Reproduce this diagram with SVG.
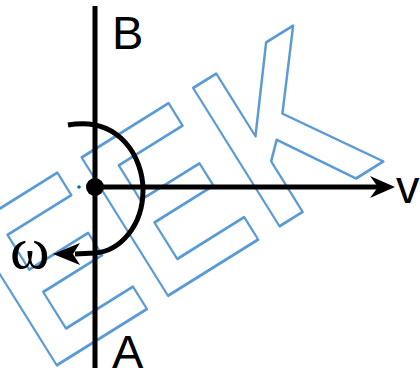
<svg xmlns="http://www.w3.org/2000/svg" width="420" height="374" viewBox="0 0 420 374">
<style>
.wm{font-family:"Liberation Sans",Arial,sans-serif;font-weight:bold;font-size:237px;fill:none;stroke:#5b9bd5;stroke-width:2.5;stroke-linejoin:round;letter-spacing:6px}
.ln{stroke:#000;stroke-width:5;fill:none}
.lbl{font-family:"Liberation Sans",Arial,sans-serif;font-size:47px;fill:#000}
.om{font-family:"Liberation Serif","Times New Roman",serif;font-size:60px;fill:#000}
</style>
<rect width="420" height="374" fill="#fff"/>
<g id="watermark">
<text class="wm" vector-effect="non-scaling-stroke" transform="translate(46,372) rotate(-32) scale(0.8,1)">EEK</text>
</g>
<g id="connectors">
<line class="ln" x1="95" y1="6" x2="95" y2="368"/>
<line class="ln" x1="95" y1="187" x2="380" y2="187"/>
<polygon points="395,187 370,176 378,187 370,198" fill="#000"/>
<path class="ln" d="M68,125 C120,116 143,158 143,190 C143,226 120,251 95,253 L75,254"/>
<polygon points="53,254 80,243 73,254 80,265" fill="#000"/>
</g>
<g id="pivot">
<circle cx="95" cy="187" r="9" fill="#000"/>
<circle cx="79" cy="187" r="1.8" fill="#0070c0"/>
</g>
<g id="labels">
<text class="lbl" x="112" y="49">B</text>
<text class="lbl" x="112" y="368">A</text>
<text class="lbl" x="396" y="203">v</text>
<text class="om" x="10" y="268">ω</text>
</g>
</svg>
